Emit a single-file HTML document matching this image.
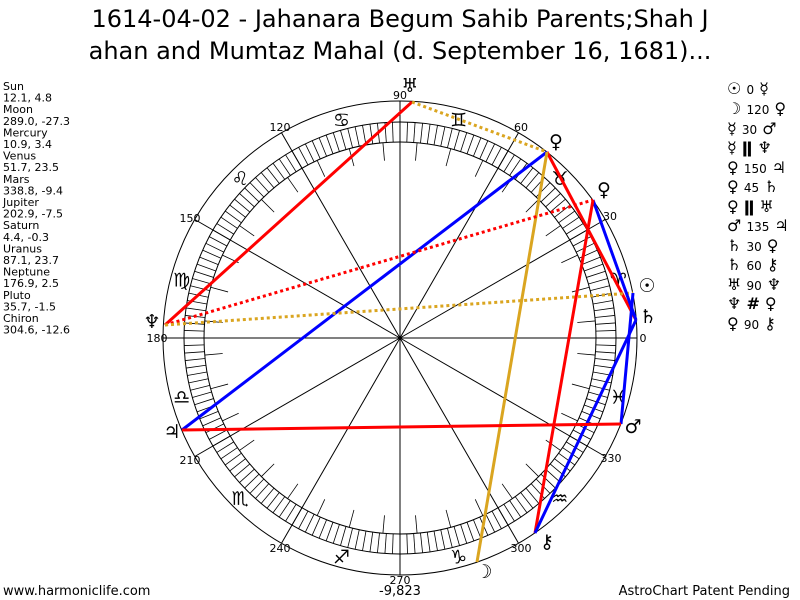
<!DOCTYPE html>
<html><head><meta charset="utf-8"><style>
body{margin:0;background:#fff;}
svg{display:block;font-family:"DejaVu Sans","Liberation Sans",sans-serif;}
</style></head><body>
<svg width="800" height="600" viewBox="0 0 800 600" xmlns="http://www.w3.org/2000/svg">
<rect width="800" height="600" fill="#fff"/>
<text x="400" y="27" font-size="24" text-anchor="middle">1614-04-02 - Jahanara Begum Sahib Parents;Shah J</text>
<text x="400" y="59" font-size="24" text-anchor="middle">ahan and Mumtaz Mahal (d. September 16, 1681)...</text>
<g font-size="11">
<text x="3" y="90">Sun</text><text x="3" y="101.6">12.1, 4.8</text>
<text x="3" y="113.2">Moon</text><text x="3" y="124.8">289.0, -27.3</text>
<text x="3" y="136.4">Mercury</text><text x="3" y="148">10.9, 3.4</text>
<text x="3" y="159.6">Venus</text><text x="3" y="171.2">51.7, 23.5</text>
<text x="3" y="182.8">Mars</text><text x="3" y="194.4">338.8, -9.4</text>
<text x="3" y="206">Jupiter</text><text x="3" y="217.6">202.9, -7.5</text>
<text x="3" y="229.2">Saturn</text><text x="3" y="240.8">4.4, -0.3</text>
<text x="3" y="252.4">Uranus</text><text x="3" y="264">87.1, 23.7</text>
<text x="3" y="275.6">Neptune</text><text x="3" y="287.2">176.9, 2.5</text>
<text x="3" y="298.8">Pluto</text><text x="3" y="310.4">35.7, -1.5</text>
<text x="3" y="322">Chiron</text><text x="3" y="333.6">304.6, -12.6</text>
</g>
<text x="3" y="595" font-size="13">www.harmoniclife.com</text>
<text x="790" y="595" font-size="13" text-anchor="end">AstroChart Patent Pending</text>
<text x="400" y="595" font-size="13" text-anchor="middle">-9,823</text>
<g fill="none" stroke="#000" stroke-width="1">
<circle cx="400" cy="338" r="237"/>
<circle cx="400" cy="338" r="216"/>
<circle cx="400" cy="338" r="196"/>
</g>
<g id="ticks" stroke="#000" stroke-width="0.8"></g>
<g id="spokes" stroke="#000" stroke-width="1"></g>
<g font-size="11" text-anchor="middle">
<text x="400" y="99">90</text><text x="521" y="131">60</text><text x="610" y="220">30</text>
<text x="643" y="342">0</text><text x="611" y="462">330</text><text x="521" y="552">300</text>
<text x="400" y="584">270</text><text x="280" y="552">240</text><text x="190" y="464">210</text>
<text x="157" y="342">180</text><text x="190" y="222">150</text><text x="280" y="131">120</text>
</g>
<g id="signs" font-family="DejaVu Sans" font-size="19" text-anchor="middle"></g>
<g stroke-width="3" fill="none">
<line x1="412" y1="102" x2="165" y2="325" stroke="#f00"/>
<line x1="412" y1="102" x2="547" y2="152" stroke="#daa520" stroke-dasharray="3,3"/>
<line x1="547" y1="152" x2="636" y2="320" stroke="#f00"/>
<line x1="547" y1="152" x2="182" y2="430" stroke="#00f"/>
<line x1="547" y1="152" x2="477" y2="562" stroke="#daa520"/>
<line x1="165" y1="325" x2="593" y2="200" stroke="#f00" stroke-dasharray="3,3"/>
<line x1="165" y1="325" x2="633" y2="293" stroke="#daa520" stroke-dasharray="3,3"/>
<line x1="593" y1="200" x2="636" y2="320" stroke="#00f"/>
<line x1="593" y1="200" x2="535" y2="533" stroke="#f00"/>
<line x1="636" y1="320" x2="535" y2="533" stroke="#00f"/>
<line x1="633" y1="293" x2="621" y2="424" stroke="#00f"/>
<line x1="621" y1="424" x2="182" y2="430" stroke="#f00"/>
</g>
<g font-family="DejaVu Sans" font-size="19" text-anchor="middle">
<text x="410" y="92">♅</text><text x="556" y="148">♀</text><text x="604" y="196">♀</text>
<text x="647" y="292" font-weight="bold">☉</text><text x="648" y="323">♄</text><text x="152" y="328">♆</text>
<text x="172" y="438">♃</text><text x="633" y="433">♂</text><text x="484" y="578">☽</text>
<text x="547" y="548">⚷</text>
</g>
<g font-family="DejaVu Sans" font-size="16">
<text x="727" y="94">☉ <tspan font-size="12">0</tspan> ☿</text>
<text x="727" y="114">☽ <tspan font-size="12">120</tspan> ♀</text>
<text x="727" y="134">☿ <tspan font-size="12">30</tspan> ♂</text>
<text x="727" y="153">☿ <tspan font-weight="bold">ǁ</tspan>  ♆</text>
<text x="727" y="173">♀ <tspan font-size="12">150</tspan> ♃</text>
<text x="727" y="192">♀ <tspan font-size="12">45</tspan> ♄</text>
<text x="727" y="212">♀ <tspan font-weight="bold">ǁ</tspan>  ♅</text>
<text x="727" y="231">♂ <tspan font-size="12">135</tspan> ♃</text>
<text x="727" y="251">♄ <tspan font-size="12">30</tspan> ♀</text>
<text x="727" y="270">♄ <tspan font-size="12">60</tspan> ⚷</text>
<text x="727" y="290">♅ <tspan font-size="12">90</tspan> ♆</text>
<text x="727" y="309">♆ <tspan font-weight="bold">#</tspan> ♀</text>
<text x="727" y="329">♀ <tspan font-size="12">90</tspan> ⚷</text>
</g>
<script>
(function(){
var ns="http://www.w3.org/2000/svg",cx=400,cy=338;
function L(g,a,r1,r2){var t=a*Math.PI/180,l=document.createElementNS(ns,"line");
l.setAttribute("x1",cx+r1*Math.cos(t));l.setAttribute("y1",cy-r1*Math.sin(t));
l.setAttribute("x2",cx+r2*Math.cos(t));l.setAttribute("y2",cy-r2*Math.sin(t));g.appendChild(l);}
var tk=document.getElementById("ticks");
for(var a=0;a<360;a+=2){L(tk,a,196,216);}
for(var a=5;a<360;a+=10){L(tk,a,178,196);}
var sp=document.getElementById("spokes");
for(var a=0;a<360;a+=30){L(sp,a,0,237);}
var sg=document.getElementById("signs"),s="♈♉♊♋♌♍♎♏♐♑♒♓";
for(var i=0;i<12;i++){var t=(15+30*i)*Math.PI/180,e=document.createElementNS(ns,"text");
e.setAttribute("x",cx+226*Math.cos(t));e.setAttribute("y",cy-226*Math.sin(t)+7);
e.textContent=s[i]+"\uFE0E";sg.appendChild(e);}
})();
</script>
</svg>
</body></html>
